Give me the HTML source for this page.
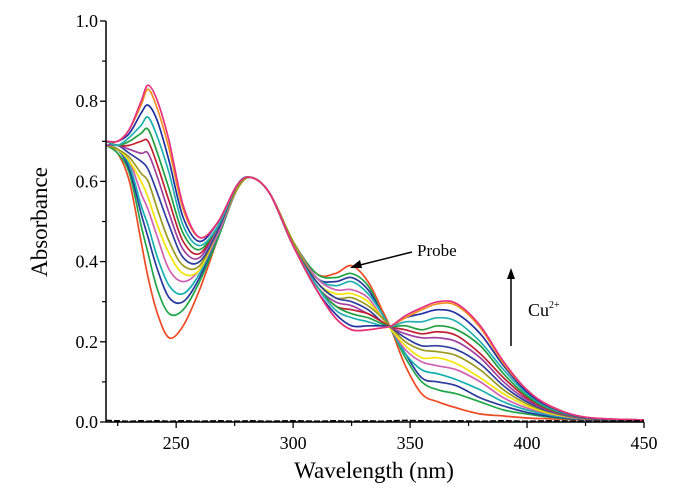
<!DOCTYPE html>
<html><head><meta charset="utf-8"><style>
body{margin:0;background:#fff;}
svg{display:block;font-family:"Liberation Serif",serif;}
</style></head><body>
<svg id="chart" width="678" height="497" viewBox="0 0 678 497" xmlns="http://www.w3.org/2000/svg">
<g id="curves"></g>
<g id="axes"></g>
<text x="0" y="0" transform="translate(47,222) rotate(-90)" text-anchor="middle" font-size="23">Absorbance</text>
<text x="374" y="478" text-anchor="middle" font-size="23">Wavelength (nm)</text>
<text x="417" y="256" font-size="17">Probe</text>
<line x1="412" y1="252" x2="356" y2="266" stroke="#000" stroke-width="1.5"/>
<polygon points="350,268 360,260 362,268" fill="#000"/>
<line x1="511" y1="346" x2="511" y2="276" stroke="#000" stroke-width="1.5"/>
<polygon points="511,268 507,279 515,279" fill="#000"/>
<text x="528" y="316" font-size="18">Cu<tspan font-size="10" dy="-8">2+</tspan></text>
</svg>
<script>
const wavelengths=[220,225,230,235,238,242,247,253,260,268,276,282,290,300,310,318,325,332,338,342,348,355,362,370,380,390,400,410,425,450];
const s0=[.69,.67,.60,.45,.36,.27,.21,.24,.33,.46,.58,.61,.57,.45,.37,.37,.39,.35,.28,.23,.14,.07,.05,.035,.02,.015,.01,.008,.005,.003];
const s1=[.69,.67,.62,.49,.42,.33,.27,.28,.35,.46,.58,.61,.57,.45,.37,.36,.37,.34,.27,.23,.16,.10,.08,.07,.05,.03,.02,.012,.006,.003];
const s2=[.69,.68,.63,.52,.46,.38,.31,.30,.36,.47,.58,.61,.57,.45,.36,.35,.36,.33,.27,.23,.17,.11,.10,.09,.06,.04,.024,.014,.006,.003];
const s3=[.69,.68,.64,.54,.49,.41,.34,.32,.37,.47,.58,.61,.57,.45,.36,.34,.35,.32,.27,.23,.17,.13,.12,.105,.08,.05,.03,.017,.007,.004];
const s4=[.69,.68,.65,.57,.53,.46,.38,.35,.38,.47,.58,.61,.57,.45,.36,.33,.33,.31,.26,.23,.18,.15,.14,.13,.10,.06,.035,.02,.007,.004];
const s5=[.69,.68,.65,.60,.56,.49,.42,.37,.38,.48,.58,.61,.57,.45,.35,.32,.32,.30,.26,.23,.19,.16,.16,.145,.11,.07,.04,.021,.008,.004];
const s6=[.69,.68,.66,.62,.60,.53,.45,.39,.39,.48,.58,.61,.57,.45,.35,.31,.31,.29,.26,.235,.20,.18,.175,.165,.13,.08,.045,.024,.008,.004];
const s7=[.69,.69,.67,.65,.63,.57,.49,.41,.40,.48,.59,.61,.57,.44,.35,.31,.30,.28,.25,.235,.21,.19,.19,.18,.145,.09,.05,.026,.009,.004];
const s8=[.69,.69,.68,.67,.67,.61,.52,.43,.41,.49,.59,.61,.57,.44,.34,.30,.29,.27,.25,.235,.22,.21,.21,.20,.16,.10,.055,.028,.009,.004];
const s9=[.70,.69,.69,.70,.70,.64,.55,.45,.42,.49,.59,.61,.57,.44,.34,.29,.28,.27,.25,.237,.23,.22,.225,.215,.17,.11,.06,.03,.01,.004];
const s10=[.70,.69,.70,.72,.73,.67,.58,.47,.43,.49,.59,.61,.57,.44,.34,.29,.27,.26,.245,.238,.24,.23,.24,.23,.19,.12,.065,.032,.01,.004];
const s11=[.70,.69,.71,.74,.76,.71,.62,.49,.44,.49,.59,.61,.57,.44,.34,.28,.26,.25,.24,.238,.25,.25,.26,.25,.20,.13,.07,.034,.011,.005];
const s12=[.70,.70,.72,.77,.79,.75,.65,.51,.45,.50,.59,.61,.57,.44,.33,.27,.24,.24,.24,.24,.26,.27,.28,.27,.22,.14,.075,.037,.011,.005];
const s13=[.70,.70,.73,.79,.83,.78,.68,.53,.46,.50,.59,.61,.57,.44,.33,.26,.23,.23,.235,.24,.26,.28,.295,.29,.235,.145,.08,.039,.012,.005];
const s14=[.70,.70,.73,.80,.84,.80,.70,.54,.46,.50,.59,.61,.57,.44,.33,.26,.23,.23,.235,.24,.265,.285,.30,.295,.24,.15,.08,.04,.012,.005];
const baseline=[.004,.003,.002,.003,.002,.003,.002,.003,.002,.003,.002,.003,.002,.003,.002,.003,.002,.003,.002,.003,.004,.003,.002,.003,.002,.003,.002,.003,.002,.003];
const series=[s0,s1,s2,s3,s4,s5,s6,s7,s8,s9,s10,s11,s12,s13,s14];
const colors=["#f04a23","#1fa84a","#2a3a9c","#17b0b0","#d060b0","#f5e600","#9a9a20","#3040a0","#a040a0","#c02030","#20a040","#20b0b0","#2030a0","#f09020","#e83080"];
const xTicks=[250,300,350,400,450];
const xMinor=[225,275,325,375,425];
const yTicks=[0,0.2,0.4,0.6,0.8,1.0];
const yTickLabels=["0.0","0.2","0.4","0.6","0.8","1.0"];
const yMinor=[0.1,0.3,0.5,0.7,0.9];
const X0=106,X1=644,Y0=422,Y1=21,XMIN=220,XMAX=450;
function xs(w){return X0+(w-XMIN)*(X1-X0)/(XMAX-XMIN);}
function ys(v){return Y0-v*(Y0-Y1);}
const NS="http://www.w3.org/2000/svg";
function mk(t,a){const e=document.createElementNS(NS,t);for(const k in a)e.setAttribute(k,a[k]);return e;}
const cg=document.getElementById('curves');
function pathOf(arr){
  const P=arr.map((v,i)=>[xs(wavelengths[i]),ys(v)]);
  let d="M"+P[0][0].toFixed(1)+","+P[0][1].toFixed(1);
  for(let i=0;i<P.length-1;i++){
    const p0=P[Math.max(0,i-1)],p1=P[i],p2=P[i+1],p3=P[Math.min(P.length-1,i+2)];
    const c1x=p1[0]+(p2[0]-p0[0])/6,c1y=p1[1]+(p2[1]-p0[1])/6;
    const c2x=p2[0]-(p3[0]-p1[0])/6,c2y=p2[1]-(p3[1]-p1[1])/6;
    d+="C"+c1x.toFixed(1)+","+c1y.toFixed(1)+" "+c2x.toFixed(1)+","+c2y.toFixed(1)+" "+p2[0].toFixed(1)+","+p2[1].toFixed(1);
  }
  return d;
}
series.forEach((s,i)=>{
  const p=mk('path',{d:pathOf(s),fill:'none',stroke:colors[i],'stroke-width':1.7,'stroke-linejoin':'round'});
  
  
  cg.appendChild(p);
});
const bl=mk('path',{d:pathOf(baseline),fill:'none',stroke:'#000','stroke-width':1.5,'stroke-dasharray':'6,2'});


cg.appendChild(bl);
const ag=document.getElementById('axes');
const ya=mk('line',{x1:X0,y1:Y1,x2:X0,y2:Y0,stroke:'#000','stroke-width':1.5});


ag.appendChild(ya);
const xa=mk('line',{x1:X0,y1:Y0,x2:X1,y2:Y0,stroke:'#000','stroke-width':1.5});


ag.appendChild(xa);
yTicks.forEach((v,i)=>{
  const t=mk('line',{x1:X0-6,y1:ys(v),x2:X0,y2:ys(v),stroke:'#000','stroke-width':1.3});
  
  
  ag.appendChild(t);
  const l=mk('text',{x:X0-8,y:ys(v)+6,'text-anchor':'end','font-size':18});
  l.textContent=yTickLabels[i];
  
  
  ag.appendChild(l);
});
yMinor.forEach(v=>{
  const t=mk('line',{x1:X0-4,y1:ys(v),x2:X0,y2:ys(v),stroke:'#000','stroke-width':1.2});
  
  
  ag.appendChild(t);
});
xTicks.forEach(w=>{
  const t=mk('line',{x1:xs(w),y1:Y0,x2:xs(w),y2:Y0+6,stroke:'#000','stroke-width':1.3});
  
  
  ag.appendChild(t);
  const l=mk('text',{x:xs(w),y:Y0+27,'text-anchor':'middle','font-size':18});
  l.textContent=String(w);
  
  
  ag.appendChild(l);
});
xMinor.forEach(w=>{
  const t=mk('line',{x1:xs(w),y1:Y0,x2:xs(w),y2:Y0+4,stroke:'#000','stroke-width':1.2});
  
  
  ag.appendChild(t);
});
</script>
</body></html>
